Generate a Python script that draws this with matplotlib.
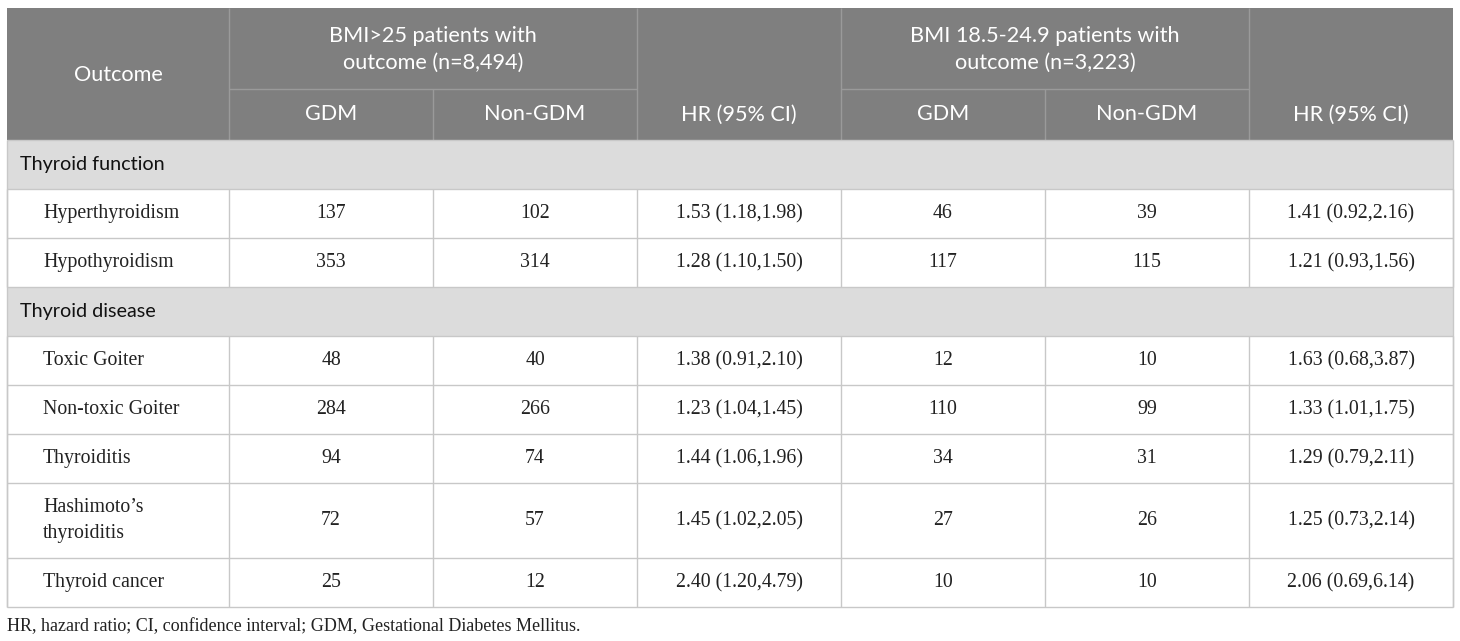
import matplotlib.pyplot as plt
from matplotlib.patches import Rectangle

# ---------------------------------------------------------------- data ----
group_titles = ["BMI>25 patients with\noutcome (n=8,494)",
                "BMI 18.5-24.9 patients with\noutcome (n=3,223)"]
sub_headers = ["GDM", "Non-GDM", "HR (95% CI)"]

sections = ["Thyroid function", "Thyroid disease"]
outcomes = [["Hyperthyroidism", "Hypothyroidism"],
            ["Toxic Goiter", "Non-toxic Goiter", "Thyroiditis",
             "Hashimoto\u2019s\nthyroiditis", "Thyroid cancer"]]

gdm_high = [137, 353, 48, 284, 94, 72, 25]
non_gdm_high = [102, 314, 40, 266, 74, 57, 12]
hr_high = ["1.53 (1.18,1.98)", "1.28 (1.10,1.50)", "1.38 (0.91,2.10)",
           "1.23 (1.04,1.45)", "1.44 (1.06,1.96)", "1.45 (1.02,2.05)",
           "2.40 (1.20,4.79)"]
gdm_norm = [46, 117, 12, 110, 34, 27, 10]
non_gdm_norm = [39, 115, 10, 99, 31, 26, 10]
hr_norm = ["1.41 (0.92,2.16)", "1.21 (0.93,1.56)", "1.63 (0.68,3.87)",
           "1.33 (1.01,1.75)", "1.29 (0.79,2.11)", "1.25 (0.73,2.14)",
           "2.06 (0.69,6.14)"]

footnote = "HR, hazard ratio; CI, confidence interval; GDM, Gestational Diabetes Mellitus."

# -------------------------------------------------------------- layout ----
W, H = 1460, 641
left, top = 7, 8
col_w = [222] + [204] * 6
hdr_h1, hdr_h2 = 81, 51
row_h = 49
tall_h = 75

HDR_BG = "#7f7f7f"
SEC_BG = "#dcdcdc"
GRID = "#c8c8c8"
HDR_LINE = "#9a9a9a"
SANS = ["Lato", "DejaVu Sans"]
SERIF = ["Liberation Serif", "DejaVu Serif"]
HDR_FS = 15.6
BODY_FS = 14.3

xs = [left]
for w in col_w:
    xs.append(xs[-1] + w)
right = xs[-1]

fig = plt.figure(figsize=(W / 100, H / 100), dpi=100)
ax = fig.add_axes([0, 0, 1, 1])
ax.set_xlim(0, W)
ax.set_ylim(H, 0)
ax.axis("off")


def hline(y, x0, x1, c=GRID, lw=1.0):
    ax.plot([x0, x1], [y, y], color=c, lw=lw, solid_capstyle="butt")


def vline(x, y0, y1, c=GRID, lw=1.0):
    ax.plot([x, x], [y0, y1], color=c, lw=lw, solid_capstyle="butt")


# header block
y_h0 = top
y_h1 = top + hdr_h1
y_h2 = y_h1 + hdr_h2
ax.add_patch(Rectangle((left, y_h0), right - left, y_h2 - y_h0, fc=HDR_BG, ec="none"))

ax.text((xs[0] + xs[1]) / 2, (y_h0 + y_h2) / 2 + 1, "Outcome", color="white",
        fontsize=HDR_FS, family=SANS, ha="center", va="center")
for g, title in enumerate(group_titles):
    c0 = 1 + 3 * g
    ax.text((xs[c0] + xs[c0 + 2]) / 2, (y_h0 + y_h1) / 2 + 1, title, color="white",
            fontsize=HDR_FS, family=SANS, ha="center", va="center", linespacing=1.45)
    for k in range(2):
        ax.text((xs[c0 + k] + xs[c0 + k + 1]) / 2, (y_h1 + y_h2) / 2, sub_headers[k],
                color="white", fontsize=HDR_FS, family=SANS, ha="center", va="center")
    ax.text((xs[c0 + 2] + xs[c0 + 3]) / 2, y_h1 + hdr_h2 / 2, sub_headers[2],
            color="white", fontsize=HDR_FS, family=SANS, ha="center", va="center")
    hline(y_h1, xs[c0], xs[c0 + 2], c=HDR_LINE)
    vline(xs[c0 + 1], y_h1, y_h2, c=HDR_LINE)
    vline(xs[c0], y_h0, y_h2, c=HDR_LINE)
    vline(xs[c0 + 2], y_h0, y_h2, c=HDR_LINE)

# body
cols = [gdm_high, non_gdm_high, hr_high, gdm_norm, non_gdm_norm, hr_norm]
y = y_h2
i = 0
for s, name in enumerate(sections):
    ax.add_patch(Rectangle((left, y), right - left, row_h, fc=SEC_BG, ec="none"))
    ax.text(left + 13, y + row_h / 2, name, fontsize=14.2, family=SANS,
            color="#111111", ha="left", va="center")
    hline(y, left, right)
    y += row_h
    for lab in outcomes[s]:
        h = tall_h if "\n" in lab else row_h
        hline(y, left, right)
        ax.text(left + 36, y + h / 2, lab, fontsize=BODY_FS, family=SERIF,
                color="#222222", ha="left", va="center", linespacing=1.5)
        for c, vals in enumerate(cols):
            ax.text((xs[c + 1] + xs[c + 2]) / 2, y + h / 2, str(vals[i]),
                    fontsize=BODY_FS, family=SERIF, color="#222222",
                    ha="center", va="center")
        for x in xs[1:-1]:
            vline(x, y, y + h)
        vline(xs[0], y, y + h)
        vline(xs[-1], y, y + h)
        y += h
        i += 1
hline(y, left, right)
vline(xs[0], y_h2, y)
vline(xs[-1], y_h2, y)

ax.text(left, y + 20, footnote, fontsize=13, family=SERIF, color="#222222",
        ha="left", va="center")

fig.savefig("out.png", dpi=100)
